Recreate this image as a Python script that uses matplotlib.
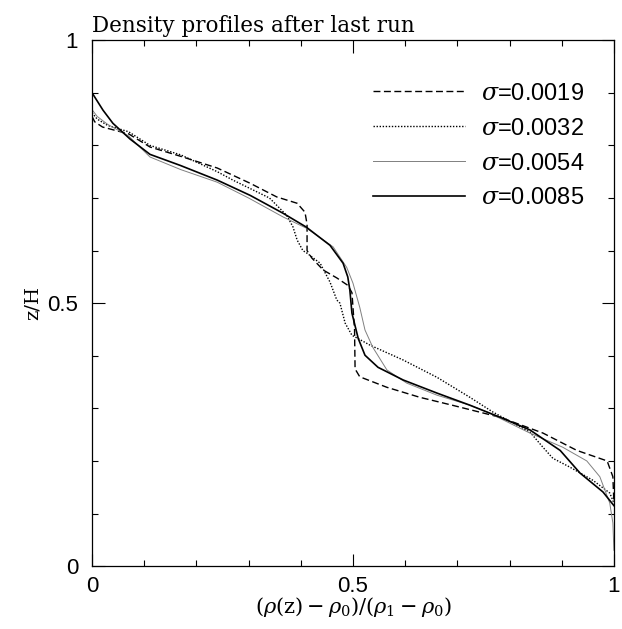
import numpy as np
import matplotlib
matplotlib.use('Agg')
import matplotlib.pyplot as plt

# ==========================================================
# DATA
# ==========================================================

labels = ['$\\sigma$=0.0019', '$\\sigma$=0.0032', '$\\sigma$=0.0054', '$\\sigma$=0.0085']

x_0019 = [0, 0.005, 0.02, 0.07, 0.111, 0.174, 0.24, 0.303, 0.354, 0.393, 0.408,
          0.412, 0.412, 0.421, 0.443, 0.469, 0.49, 0.498, 0.503, 0.504, 0.513,
          0.565, 0.628, 0.69, 0.782, 0.864, 0.929, 0.987, 0.998, 1.0]
z_0019 = [0.855, 0.845, 0.835, 0.822, 0.797, 0.778, 0.757, 0.728, 0.702, 0.69, 0.673,
          0.65, 0.6, 0.586, 0.563, 0.548, 0.534, 0.52, 0.45, 0.375, 0.36,
          0.34, 0.321, 0.306, 0.283, 0.253, 0.22, 0.2, 0.17, 0.12]

x_0032 = [0, 0.01, 0.03, 0.07, 0.111, 0.17, 0.24, 0.27, 0.303, 0.34, 0.373, 0.385,
          0.393, 0.404, 0.412, 0.437, 0.456, 0.469, 0.475, 0.485, 0.498, 0.533,
          0.596, 0.661, 0.724, 0.768, 0.839, 0.864, 0.883, 0.916, 0.96, 0.992, 1.0]
z_0032 = [0.862, 0.85, 0.838, 0.826, 0.80, 0.782, 0.75, 0.734, 0.718, 0.70, 0.667, 0.645,
          0.62, 0.6, 0.595, 0.576, 0.54, 0.506, 0.5, 0.462, 0.439, 0.42,
          0.392, 0.359, 0.321, 0.293, 0.255, 0.226, 0.205, 0.188, 0.163, 0.139, 0.12]

x_0054 = [0, 0.01, 0.03, 0.07, 0.111, 0.17, 0.24, 0.30, 0.366, 0.412, 0.462, 0.488,
          0.5, 0.513, 0.523, 0.538, 0.565, 0.603, 0.661, 0.724, 0.757, 0.839,
          0.902, 0.948, 0.973, 0.992, 0.998, 1.0]
z_0054 = [0.868, 0.855, 0.84, 0.818, 0.778, 0.754, 0.73, 0.70, 0.664, 0.642, 0.607, 0.568,
          0.538, 0.492, 0.449, 0.416, 0.373, 0.348, 0.325, 0.306, 0.293, 0.253,
          0.226, 0.2, 0.17, 0.12, 0.082, 0.03]

x_0085 = [0, 0.021, 0.04, 0.073, 0.111, 0.169, 0.24, 0.303, 0.366, 0.41, 0.456, 0.481,
          0.49, 0.494, 0.498, 0.51, 0.523, 0.548, 0.596, 0.661, 0.724, 0.782,
          0.839, 0.897, 0.935, 0.979, 1.0]
z_0085 = [0.90, 0.867, 0.842, 0.812, 0.783, 0.762, 0.734, 0.705, 0.671, 0.645, 0.61, 0.576,
          0.55, 0.525, 0.481, 0.433, 0.401, 0.378, 0.354, 0.329, 0.306, 0.283,
          0.259, 0.22, 0.177, 0.141, 0.115]

major_ticks = [0, 0.5, 1]
major_labels = ['0', '0.5', '1']
minor_ticks = np.arange(0, 1.01, 0.1)

# ==========================================================
# PLOT
# ==========================================================

plt.rcParams['mathtext.fontset'] = 'dejavuserif'

fig = plt.figure(figsize=(6.22, 6.29), dpi=100)
ax = fig.add_axes([0.148, 0.1, 0.839, 0.836])

ax.plot(x_0019, z_0019, color='black', linewidth=1.0, dashes=(5, 2.5), label=labels[0])
ax.plot(x_0032, z_0032, color='black', linewidth=1.0, dashes=(1, 1.2), label=labels[1])
ax.plot(x_0054, z_0054, color='0.5', linewidth=0.7, label=labels[2])
ax.plot(x_0085, z_0085, color='black', linewidth=1.2, label=labels[3])

ax.set_xlim(0, 1)
ax.set_ylim(0, 1)

ax.set_xticks(major_ticks)
ax.set_xticklabels(major_labels)
ax.set_yticks(major_ticks)
ax.set_yticklabels(major_labels)
ax.set_xticks(minor_ticks, minor=True)
ax.set_yticks(minor_ticks, minor=True)

ax.tick_params(which='both', direction='in', top=True, right=True, width=0.8)
ax.tick_params(which='major', length=9)
ax.tick_params(axis='x', which='major', pad=7)
ax.tick_params(axis='y', which='major', pad=10)
ax.tick_params(which='minor', length=4.5)

for lab in ax.get_xticklabels() + ax.get_yticklabels():
    lab.set_fontfamily('Liberation Sans')
    lab.set_fontsize(16)

for sp in ax.spines.values():
    sp.set_linewidth(0.9)

ax.set_xlabel(r'$(\rho(\mathrm{z})-\rho_0)/(\rho_1-\rho_0)$', fontsize=15, labelpad=-1)
ax.set_ylabel('z/H', family='DejaVu Serif', fontsize=14, labelpad=4)

ax.set_title('Density profiles after last run', loc='left', family='DejaVu Serif',
             fontsize=15.5, pad=6)

leg = ax.legend(loc='upper right', bbox_to_anchor=(0.985, 0.96), frameon=False,
                handlelength=3.9, handletextpad=0.7, labelspacing=0.55,
                prop={'family': 'Liberation Sans', 'size': 17})

plt.savefig('out.png', dpi=100)
